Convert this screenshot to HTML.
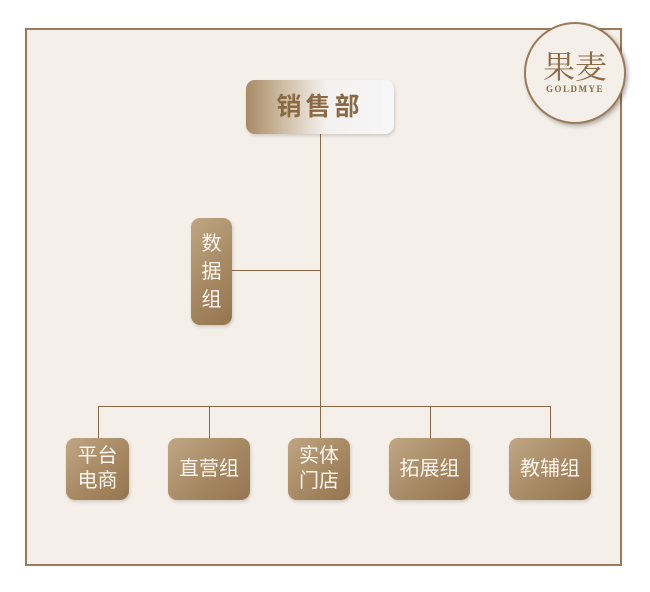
<!DOCTYPE html>
<html><head><meta charset="utf-8"><style>
html,body{margin:0;padding:0;background:#fff;width:650px;height:592px;overflow:hidden;position:relative;font-family:"Liberation Sans","Noto Sans CJK SC",sans-serif}
.frame{position:absolute;left:25px;top:28px;width:597px;height:538px;border:2px solid #9a7a58;background:#f5efe9;box-sizing:border-box}
.l{position:absolute;background:#8b6848}
.b{position:absolute;border-radius:9px;background:linear-gradient(135deg,#c0a684,#a48660 60%,#94754f);color:#fbf5ee;display:flex;align-items:center;justify-content:center;text-align:center;font-size:20px;line-height:25px;box-shadow:1px 2px 3px rgba(0,0,0,.15)}
.circ{position:absolute;left:524px;top:22px;width:102px;height:102px;border-radius:50%;border:2px solid #9a7a58;background:#f5efe9;box-shadow:2px 2px 4px rgba(0,0,0,.3);box-sizing:border-box;text-align:center;color:#8b6a45}
</style></head><body>
<div class="frame"></div>
<div class="circ"><div style="font-family:'Noto Serif CJK SC',serif;font-size:32px;margin-top:22px;line-height:38px">果麦</div><div style="font-family:'Liberation Serif',serif;font-size:9px;letter-spacing:1.5px;font-weight:bold">GOLDMYE</div></div>
<div class="l" style="left:320px;top:134px;width:1px;height:272px"></div>
<div class="l" style="left:232px;top:270px;width:88px;height:1px"></div>
<div class="l" style="left:98px;top:406px;width:453px;height:1px"></div>
<div class="l" style="left:98px;top:406px;width:1px;height:32px"></div>
<div class="l" style="left:209px;top:406px;width:1px;height:32px"></div>
<div class="l" style="left:320px;top:406px;width:1px;height:32px"></div>
<div class="l" style="left:430px;top:406px;width:1px;height:32px"></div>
<div class="l" style="left:550px;top:406px;width:1px;height:32px"></div>
<div class="b" style="left:246px;top:80px;width:148px;height:54px;background:linear-gradient(90deg,#a88a66,#d6c6b0 30%,#f4f2f0 55%,#f6f6f8);color:#8a6a45;font-size:25px;letter-spacing:4px;font-weight:bold">销售部</div>
<div class="b" style="left:191px;top:218px;width:41px;height:107px;line-height:28px">数<br>据<br>组</div>
<div class="b" style="left:66px;top:438px;width:63px;height:62px">平台<br>电商</div>
<div class="b" style="left:168px;top:438px;width:82px;height:62px">直营组</div>
<div class="b" style="left:288px;top:438px;width:62px;height:62px">实体<br>门店</div>
<div class="b" style="left:389px;top:438px;width:81px;height:62px">拓展组</div>
<div class="b" style="left:509px;top:438px;width:82px;height:62px">教辅组</div>
</body></html>
